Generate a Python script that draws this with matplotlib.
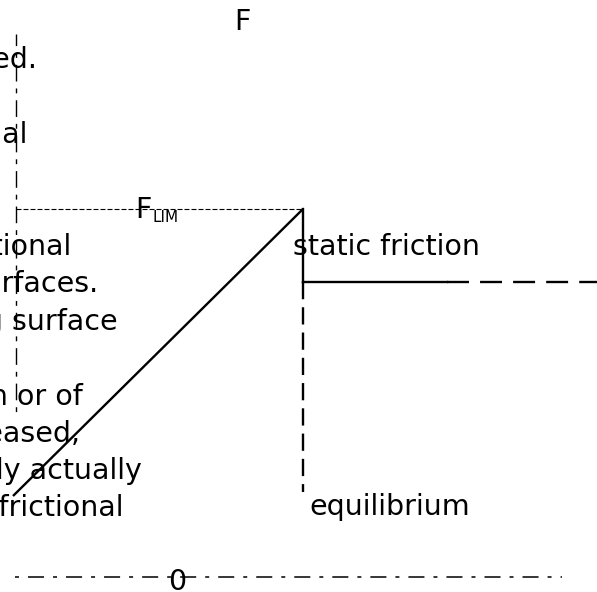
"""Friction force vs applied force sketch (static -> limiting -> kinetic)."""

import matplotlib
matplotlib.use('Agg')
import matplotlib.pyplot as plt

# ------------------------------------------------------------------ #
#  Diagram values (units: applied force on x, friction force on y)     #
# ------------------------------------------------------------------ #
ramp_applied = [0, 290]          # static friction grows with applied force
ramp_friction = [0, 287]
F_LIM = 287                      # limiting friction
F_KIN = 214                      # kinetic friction level after slip
F_SLIP = 290                     # applied force at which slipping starts
kin_solid_end = 434
kin_dash_end = 590
eq_bottom = 4
left_axis_x = 3
left_axis_y = [84, 462]
zero_axis_y = -81
zero_axis_x = [2, 549]

# clipped explanatory paragraph on the left (only the tails are visible)
note_lines = [
    'when the applied force is increased.',
    'and the frictional',
    'the friction depends on the frictional',
    'nature of the two surfaces.',
    'for a moving surface',
    'before motion or of',
    'the force is increased,',
    'but the body actually',
    'moves, the frictional',
]
note_right = [24, 14, 58, 85, 105, 70, 67, 129, 110]
note_base = [428, 353, 241, 204, 166, 91, 54, 17, -20]

FS = 20.5
LW = 1.7

fig = plt.figure(figsize=(5.97, 5.92), dpi=100)
ax = fig.add_axes([0, 0, 1, 1])
ax.set_xlim(-13, 584)
ax.set_ylim(-96, 496)
ax.axis('off')

# ---- axes-like guide lines ---------------------------------------- #
ax.plot([left_axis_x, left_axis_x], left_axis_y, color='black', lw=1.0,
        linestyle=(16.7, (12, 5, 3.5, 5)))
ax.plot(zero_axis_x, [zero_axis_y, zero_axis_y], color='black', lw=1.1,
        linestyle=(16.4, (10.5, 5.9, 2.6, 5.9)))

# ---- limiting friction level -------------------------------------- #
ax.plot([left_axis_x, F_SLIP], [F_LIM, F_LIM], color='black', lw=0.8,
        linestyle=(0, (4.5, 1.8)))

# ---- friction curve ------------------------------------------------ #
ax.plot(ramp_applied, ramp_friction, color='black', lw=LW,
        solid_capstyle='butt')
ax.plot([F_SLIP, F_SLIP], [F_KIN, eq_bottom], color='black', lw=LW,
        linestyle=(0, (7.3, 3.4)))
ax.plot([F_SLIP, F_SLIP], [F_LIM, F_KIN], color='black', lw=LW)
ax.plot([F_SLIP, kin_solid_end], [F_KIN, F_KIN], color='black', lw=LW)
ax.plot([kin_solid_end, kin_dash_end], [F_KIN, F_KIN], color='black', lw=LW,
        linestyle=(0, (9.3, 4.7)))

# ---- labels --------------------------------------------------------- #
ax.text(229, 466, 'F', fontsize=FS, ha='center', va='baseline')
ax.text(122, 278, 'F', fontsize=FS, ha='left', va='baseline')
ax.text(139, 274, 'LIM', fontsize=11, ha='left', va='baseline')
ax.text(280, 241, 'static friction', fontsize=FS, ha='left', va='baseline')
ax.text(296, -19, 'equilibrium', fontsize=FS, ha='left', va='baseline')
ax.text(164.5, -94, '0', fontsize=FS, ha='center', va='baseline')

for s, xr, yb in zip(note_lines, note_right, note_base):
    ax.text(xr, yb, s, fontsize=FS, ha='right', va='baseline')

fig.savefig('out.png', dpi=100)
